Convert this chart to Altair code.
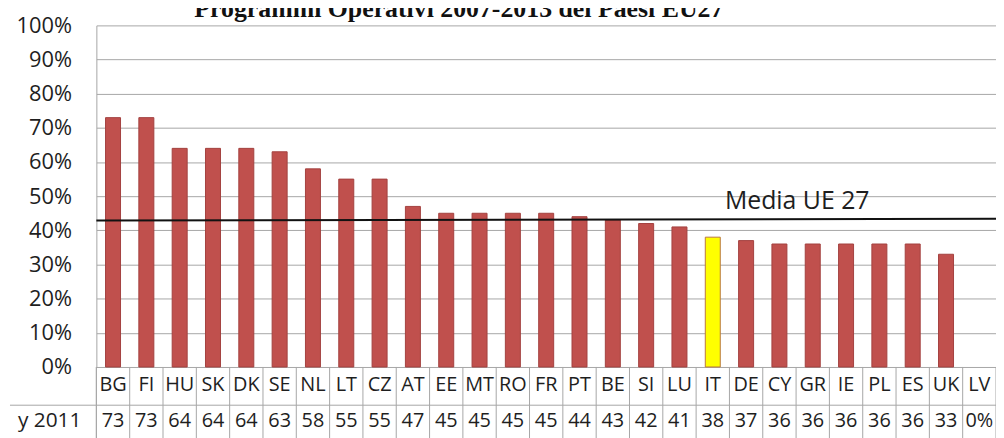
import altair as alt
import pandas as pd

countries = ["BG", "FI", "HU", "SK", "DK", "SE", "NL", "LT", "CZ", "AT", "EE", "MT", "RO", "FR",
             "PT", "BE", "SI", "LU", "IT", "DE", "CY", "GR", "IE", "PL", "ES", "UK", "LV"]
values = [73, 73, 64, 64, 64, 63, 58, 55, 55, 47, 45, 45, 45, 45,
          44, 43, 42, 41, 38, 37, 36, 36, 36, 36, 36, 33, 0]
table_labels = ["73", "73", "64", "64", "64", "63", "58", "55", "55", "47", "45", "45", "45", "45",
                "44", "43", "42", "41", "38", "37", "36", "36", "36", "36", "36", "33", "0%"]
highlight = "IT"
mean_start = 42.9
mean_end = 43.4
y_ticks = list(range(0, 101, 10))
row_label = "y 2011"
title_text = "Programmi Operativi 2007-2013 dei Paesi EU27"
mean_label = "Media UE 27"

W = 906
H = 344
FONT = "Open Sans"
GRID = "#A6A6A6"
TXT = "#1E1E1E"

df = pd.DataFrame({"country": countries, "value": values, "label": table_labels})
df["group"] = ["hl" if c == highlight else "other" for c in countries]

xscale = alt.Scale(paddingInner=0, paddingOuter=0)
yscale = alt.Scale(domain=[0, 100], nice=False)
yaxis = alt.Axis(values=y_ticks, labelExpr="datum.value + '%'", title=None,
                 grid=True, gridColor=GRID, gridWidth=1, ticks=False,
                 labelOverlap=False, tickCount=11,
                 domain=True, domainColor=GRID, labelFont=FONT, labelFontSize=22,
                 labelColor=TXT, labelPadding=25)

x = alt.X("country:N", sort=countries, scale=xscale, axis=None)

base = alt.Chart(df)

bars = base.transform_filter("datum.value > 0").mark_bar(
    width=alt.RelativeBandSize(0.45), strokeWidth=1).encode(
    x=x,
    y=alt.Y("value:Q", scale=yscale, axis=yaxis),
    color=alt.Color("group:N", scale=alt.Scale(domain=["other", "hl"], range=["#C0504D", "#FFFF00"]),
                    legend=None),
    stroke=alt.Stroke("group:N", scale=alt.Scale(domain=["other", "hl"], range=["#A3423F", "#B9783F"]),
                      legend=None),
)

row1 = base.mark_text(font=FONT, fontSize=20, color=TXT, baseline="middle").encode(
    x=x, y=alt.value(362), text="country:N")
row2 = base.mark_text(font=FONT, fontSize=20, color=TXT, baseline="middle").encode(
    x=x, y=alt.value(398), text="label:N")

vsep = base.mark_rule(color=GRID, strokeWidth=1).encode(
    x=alt.X("country:N", sort=countries, scale=xscale, axis=None, bandPosition=0),
    y=alt.value(H), y2=alt.value(H + 80))

extra_lines = pd.DataFrame({"k": ["right", "hsep", "left"]})
right_edge = alt.Chart(extra_lines).transform_filter("datum.k == 'right'").mark_rule(color=GRID).encode(
    x=alt.value(W), y=alt.value(H), y2=alt.value(H + 80))
left_edge = alt.Chart(extra_lines).transform_filter("datum.k == 'left'").mark_rule(color=GRID).encode(
    x=alt.value(0), y=alt.value(H), y2=alt.value(H + 80))
hsep = alt.Chart(extra_lines).transform_filter("datum.k == 'hsep'").mark_rule(color=GRID).encode(
    x=alt.value(-87), x2=alt.value(W), y=alt.value(382.5))

mean_df = pd.DataFrame({"y": [mean_start], "y2": [mean_end], "label": [mean_label]})
mean_line = alt.Chart(mean_df).mark_rule(color="#111111", strokeWidth=2).encode(
    x=alt.value(0), x2=alt.value(W),
    y=alt.Y("y:Q", scale=yscale, axis=yaxis), y2="y2:Q")
mean_text = alt.Chart(mean_df).mark_text(font=FONT, fontSize=25, color=TXT, align="left",
                                         baseline="alphabetic").encode(
    x=alt.value(633), y=alt.value(185), text="label:N")

misc = pd.DataFrame({"title": [title_text], "row": [row_label]})
title = alt.Chart(misc).mark_text(font="Liberation Serif", fontWeight="bold", fontSize=26,
                                  color="#111111", align="center", baseline="alphabetic").encode(
    x=alt.value(365), y=alt.value(-8), text="title:N")
row_lbl = alt.Chart(misc).mark_text(font=FONT, fontSize=21, color=TXT, align="left",
                                    baseline="middle").encode(
    x=alt.value(-79), y=alt.value(398), text="row:N")

chart = alt.layer(bars, vsep, right_edge, left_edge, hsep, row1, row2, mean_line, mean_text,
                  title, row_lbl).properties(
    width=W, height=H,
    autosize=alt.AutoSizeParams(type="none"),
    padding={"left": 89, "top": 16, "right": 0, "bottom": 70},
).configure_view(stroke=None)

chart.save("out.html", embed_options={"renderer": "svg", "actions": False})
